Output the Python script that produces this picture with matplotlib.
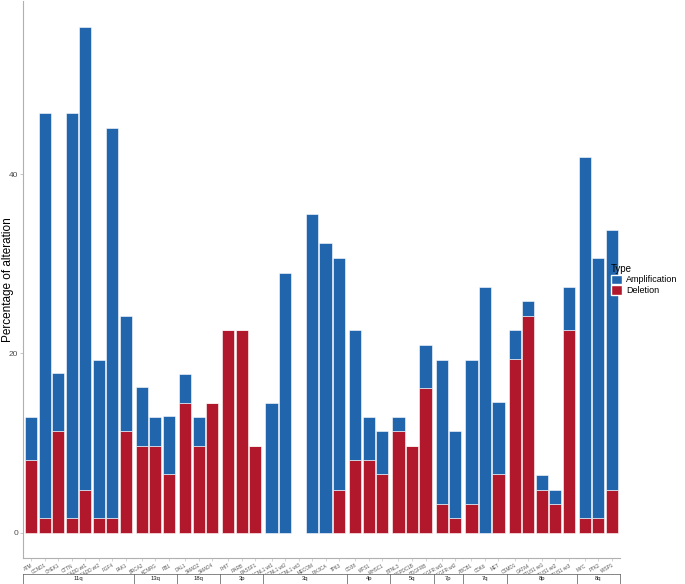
import numpy as np
import matplotlib
matplotlib.use('Agg')
import matplotlib.pyplot as plt
from matplotlib.patches import Patch

plt.rcParams['font.family'] = ['Liberation Sans', 'DejaVu Sans']

# chromosome arms (facets) and number of genes in each
arms = ['11q', '13q', '18q', '3p', '3q', '4p', '5q', '7p', '7q', '8p', '8q']
arm_sizes = [8, 3, 3, 3, 6, 3, 3, 2, 3, 5, 3]

genes = ['ATM', 'CCND1', 'CHEK1', 'CTTN', 'FADD wt1', 'FADD wt2', 'FGF4', 'PAK1',
         'BRCA2', 'KCNRG', 'RB1',
         'DAL1', 'SMAD2', 'SMAD4',
         'FHIT', 'RARB', 'RASSF1',
         'CCNL1 wt1', 'CCNL1 wt2', 'CCNL1 wt3', 'MECOM', 'PIK3CA', 'TP63',
         'CD38', 'WFS1', 'WHSC1',
         'BTNL3', 'DEPDC1B', 'PDGFRB',
         'EGFR wt1', 'EGFR wt2',
         'ABCB1', 'CDK6', 'MET',
         'CSMD1', 'GATA4', 'MTUS1 wt1', 'MTUS1 wt2', 'MTUS1 wt3',
         'MYC', 'PTK2', 'WISP1']

deletion = [8.1, 1.6, 11.3, 1.6, 4.8, 1.6, 1.6, 11.3,
            9.7, 9.7, 6.5,
            14.5, 9.7, 14.5,
            22.6, 22.6, 9.7,
            0, 0, 0, 0, 0, 4.8,
            8.1, 8.1, 6.5,
            11.3, 9.7, 16.1,
            3.2, 1.6,
            3.2, 0, 6.5,
            19.4, 24.2, 4.8, 3.2, 22.6,
            1.6, 1.6, 4.8]

amplification = [4.8, 45.2, 6.5, 45.2, 51.6, 17.7, 43.5, 12.9,
                 6.5, 3.2, 6.5,
                 3.2, 3.2, 0,
                 0, 0, 0,
                 14.5, 29.0, 0, 35.5, 32.3, 25.8,
                 14.5, 4.8, 4.8,
                 1.6, 0, 4.8,
                 16.1, 9.7,
                 16.1, 27.4, 8.1,
                 3.2, 1.6, 1.6, 1.6, 4.8,
                 40.3, 29.0, 29.0]

amp_color = '#2166AC'
del_color = '#B2182B'
axis_grey = '#b0b0b0'

fig = plt.figure(figsize=(6.85, 5.84), dpi=100)
W, H = 685, 584
left, right = 23 / W, 620 / W
top, bottom = 1 - 1 / H, 1 - 558 / H
gs = fig.add_gridspec(1, len(arms), width_ratios=[n + 0.2 for n in arm_sizes],
                      left=left, right=right, top=top, bottom=bottom, wspace=0.0)

start = 0
axes = []
for k, (arm, n) in enumerate(zip(arms, arm_sizes)):
    ax = fig.add_subplot(gs[0, k], sharey=axes[0] if axes else None)
    axes.append(ax)
    x = np.arange(n)
    d = np.array(deletion[start:start + n])
    a = np.array(amplification[start:start + n])
    ax.bar(x, d, width=0.9, color=del_color, edgecolor='white', linewidth=0.4)
    ax.bar(x, a, width=0.9, bottom=d, color=amp_color, edgecolor='white', linewidth=0.4)
    ax.set_xlim(-0.6, n - 0.4)
    ax.set_xticks(x)
    ax.set_xticklabels(genes[start:start + n], rotation=30, ha='right',
                       rotation_mode='anchor', fontsize=3.3, color='#555555')
    ax.tick_params(axis='x', length=2, width=0.4, color=axis_grey, pad=1.5)
    for s in ['top', 'right']:
        ax.spines[s].set_visible(False)
    ax.spines['bottom'].set_color(axis_grey)
    ax.spines['bottom'].set_linewidth(0.8)
    if k == 0:
        ax.spines['left'].set_color(axis_grey)
        ax.spines['left'].set_linewidth(0.8)
        ax.set_yticks([0, 20, 40])
        ax.tick_params(axis='y', labelsize=6, labelcolor='#4d4d4d', length=2,
                       width=0.5, color=axis_grey, pad=1.5)
    else:
        ax.spines['left'].set_visible(False)
        ax.tick_params(axis='y', left=False, labelleft=False)
    start += n

axes[0].set_ylim(-2.83, 59.3)

fig.text(8 / W, (top + bottom) / 2, 'Percentage of alteration', rotation=90,
         ha='center', va='center', fontsize=8.5, color='black')

# facet strips at the bottom
fig.canvas.draw()
for ax, arm in zip(axes, arms):
    pos = ax.get_position()
    sax = fig.add_axes([pos.x0, 1 - 583.5 / H, pos.width, 9.5 / H])
    sax.set_xticks([])
    sax.set_yticks([])
    for s in sax.spines.values():
        s.set_color('#555555')
        s.set_linewidth(0.5)
    sax.text(0.5, 0.5, arm, ha='center', va='center', fontsize=4.2,
             color='#1a1a1a', transform=sax.transAxes)

handles = [Patch(facecolor=amp_color, edgecolor='white'),
           Patch(facecolor=del_color, edgecolor='white')]
fig.legend(handles, ['Amplification', 'Deletion'], title='Type',
           loc='upper left', bbox_to_anchor=(607 / W, 1 - 260 / H),
           frameon=False, fontsize=6.5, title_fontsize=7,
           handlelength=1.3, handleheight=1.3, handletextpad=0.4,
           labelspacing=0.1, borderaxespad=0, alignment='left')

fig.savefig('out.png', dpi=100)
